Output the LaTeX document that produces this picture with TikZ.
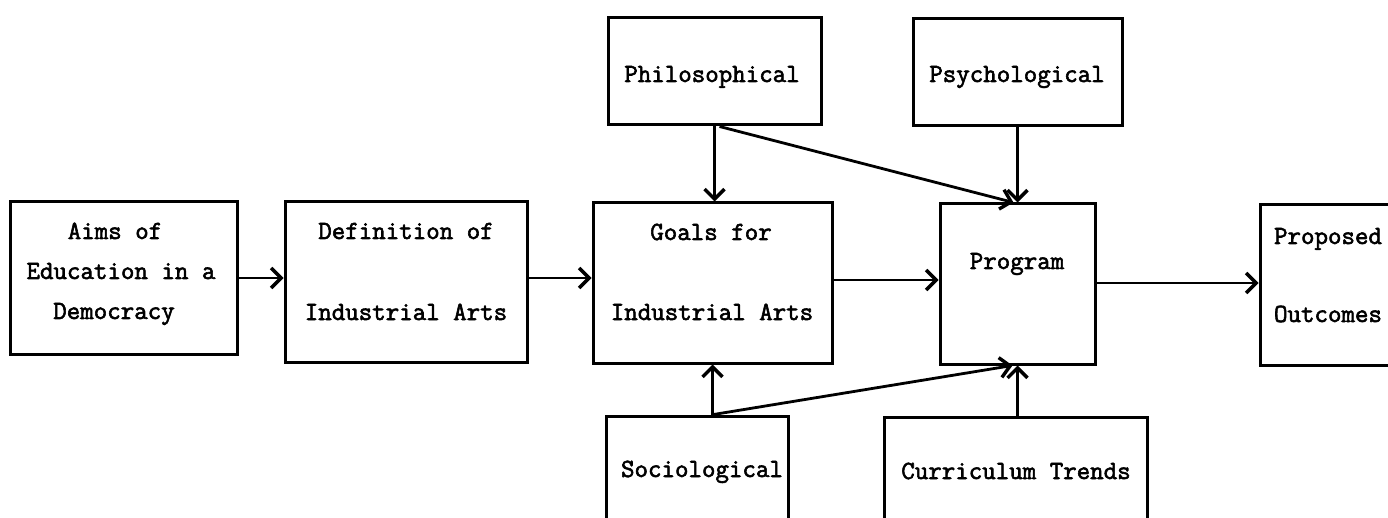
\documentclass[tikz,border=0pt]{standalone}
\usepackage{fontspec}
\setmonofont[AutoFakeBold=2.2]{Latin Modern Mono}
\usetikzlibrary{arrows.meta}
\tikzset{
  box/.style={draw, line width=3pt, inner sep=0pt},
  lbl/.style={inner sep=0pt, anchor=base, font=\ttfamily\bfseries\fontsize{26.2}{30}\selectfont},
  arr/.style={line width=2.8pt, -{Straight Barb[length=10pt,width=20pt,line width=3.4pt]}}
}
\begin{document}
\begin{tikzpicture}[x=1pt,y=-1pt]
\useasboundingbox (0,0) rectangle (1388,518);
\clip (0,0) rectangle (1388,518);
% boxes
\node[box, minimum width=227pt, minimum height=152pt] (aims) at (123.5,278) {};
\node[box, minimum width=242pt, minimum height=160pt] (def) at (406,282) {};
\node[box, minimum width=239pt, minimum height=160pt] (goals) at (712.5,283) {};
\node[box, minimum width=155pt, minimum height=160pt] (prog) at (1017.5,284) {};
\node[box, minimum width=160pt, minimum height=160pt] (prop) at (1340,285) {};
\node[box, minimum width=213pt, minimum height=107pt] (phil) at (714.5,71.5) {};
\node[box, minimum width=209pt, minimum height=107pt] (psych) at (1017.5,72.5) {};
\node[box, minimum width=182pt, minimum height=150pt] (soc) at (697,491) {};
\node[box, minimum width=263pt, minimum height=150pt] (curr) at (1015.5,492) {};
% labels
\node[lbl] (t1) at (115,239) {Aims of};
\node[lbl] (t2) at (121,279) {Education in a};
\node[lbl] (t3) at (114,319) {Democracy};
\node[lbl] (t4) at (406,239) {Definition of};
\node[lbl] (t5) at (406,320) {Industrial Arts};
\node[lbl] (t6) at (711,240) {Goals for};
\node[lbl] (t7) at (712,320) {Industrial Arts};
\node[lbl] (t8) at (1017,269) {Program};
\node[lbl] (t9) at (1328,244) {Proposed};
\node[lbl] (t10) at (1328,322) {Outcomes};
\node[lbl] (t11) at (712,82) {Philosophical};
\node[lbl] (t12) at (1017,82) {Psychological};
\node[lbl] (t13) at (702,477) {Sociological};
\node[lbl] (t14) at (1016,479) {Curriculum Trends};
% connectors
\draw[arr] (aims.east) -- (aims.east -| def.west);
\draw[arr] (def.east |- 0,278) -- (goals.west |- 0,278);
\draw[arr] (goals.east |- 0,280) -- (prog.west |- 0,280);
\draw[arr] (prog.east |- 0,283) -- (prop.west |- 0,283);
\draw[arr] (phil.south) -- (phil.south |- goals.north);
\draw[arr] ([xshift=5pt]phil.south) -- ([xshift=-4pt]prog.north);
\draw[arr] (psych.south) -- (prog.north);
\draw[arr] (goals.south |- soc.north) -- (goals.south);
\draw[arr] ([xshift=1pt]goals.south |- soc.north) -- ([xshift=-5pt]prog.south);
\draw[arr] (prog.south |- curr.north) -- (prog.south);
\end{tikzpicture}
\end{document}
